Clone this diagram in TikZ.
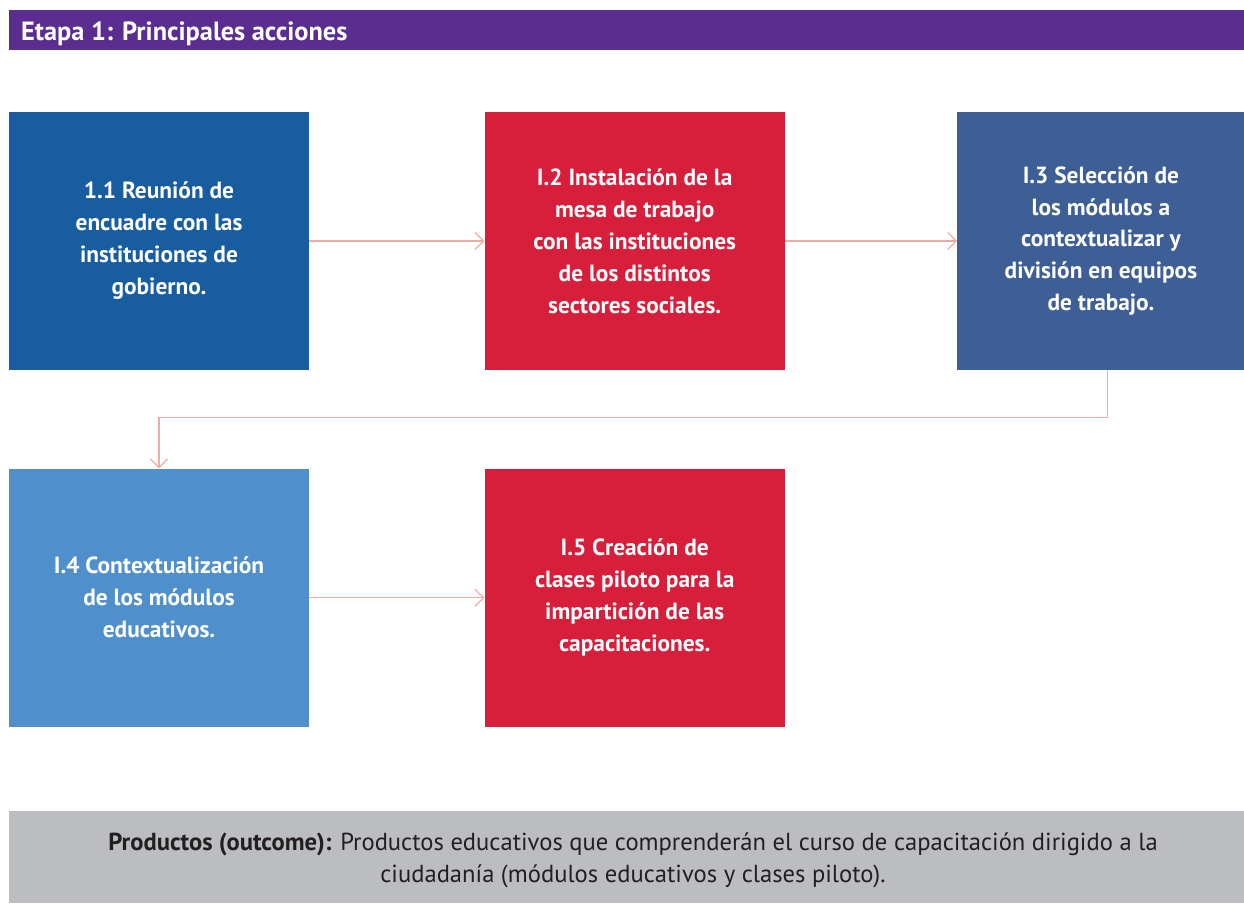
\documentclass[tikz,border=0pt]{standalone}
\usepackage{fontspec}
\setmainfont{PT Sans}
\usetikzlibrary{positioning,arrows.meta}
\definecolor{etapapurple}{HTML}{5C2D91}
\definecolor{darkblue}{HTML}{175DA0}
\definecolor{actred}{HTML}{D71F3B}
\definecolor{slateblue}{HTML}{3E5F96}
\definecolor{lightblue}{HTML}{4F90CC}
\definecolor{outgray}{HTML}{BCBDC0}
\definecolor{linkpink}{HTML}{F0ABA3}
\definecolor{outtext}{HTML}{231F20}
\begin{document}
\begin{tikzpicture}[
    actbox/.style={minimum width=6cm, minimum height=5.16cm, inner sep=0pt,
      text=white, align=center, font=\bfseries\fontsize{13.3}{18.2}\selectfont},
    link/.style={draw=linkpink, line width=0.7pt,
      -{Straight Barb[length=0.17cm,width=0.34cm]}},
    node distance=3.52cm]
\useasboundingbox (0,0) rectangle (24.88,-18.06);
% header
\fill[etapapurple] (0.18,-0.2) rectangle (24.88,-1.0);
\node[anchor=west, text=white, font=\bfseries\fontsize{15}{17}\selectfont] (title) at (0.3,-0.68) {Etapa 1: Principales acciones};
% action boxes
\node[actbox, fill=darkblue] (b1) at (3.18,-4.82) {1.1 Reunión de\\encuadre con las\\instituciones de\\gobierno.};
\node[actbox, fill=actred, right=3.5cm of b1] (b2) {I.2 Instalación de la\\mesa de trabajo\\con las instituciones\\de los distintos\\sectores sociales.};
\node[actbox, fill=slateblue, minimum width=5.74cm, right=3.44cm of b2] (b3) {I.3 Selección de\\los módulos a\\contextualizar y\\división en equipos\\de trabajo.};
\node[actbox, fill=lightblue, below=1.96cm of b1] (b4) {I.4 Contextualización\\de los módulos\\educativos.};
\node[actbox, fill=actred, right=3.5cm of b4] (b5) {I.5 Creación de\\clases piloto para la\\impartición de las\\capacitaciones.};
% connectors
\draw[link] (b1) -- (b2);
\draw[link] (b2) -- (b3);
\draw[link] ([xshift=0.13cm]b3.south) -- ++(0,-0.94) -| (b4.north);
\draw[link] (b4) -- (b5);
% outcome
\fill[outgray] (0.18,-16.22) rectangle (24.88,-18.06);
\node[align=center, text=outtext, font=\fontsize{14}{18.2}\selectfont] (outcome) at (12.66,-17.2)
  {\textbf{Productos (outcome):} Productos educativos que comprenderán el curso de capacitación dirigido a la\\ciudadanía (módulos educativos y clases piloto).};
\end{tikzpicture}
\end{document}
